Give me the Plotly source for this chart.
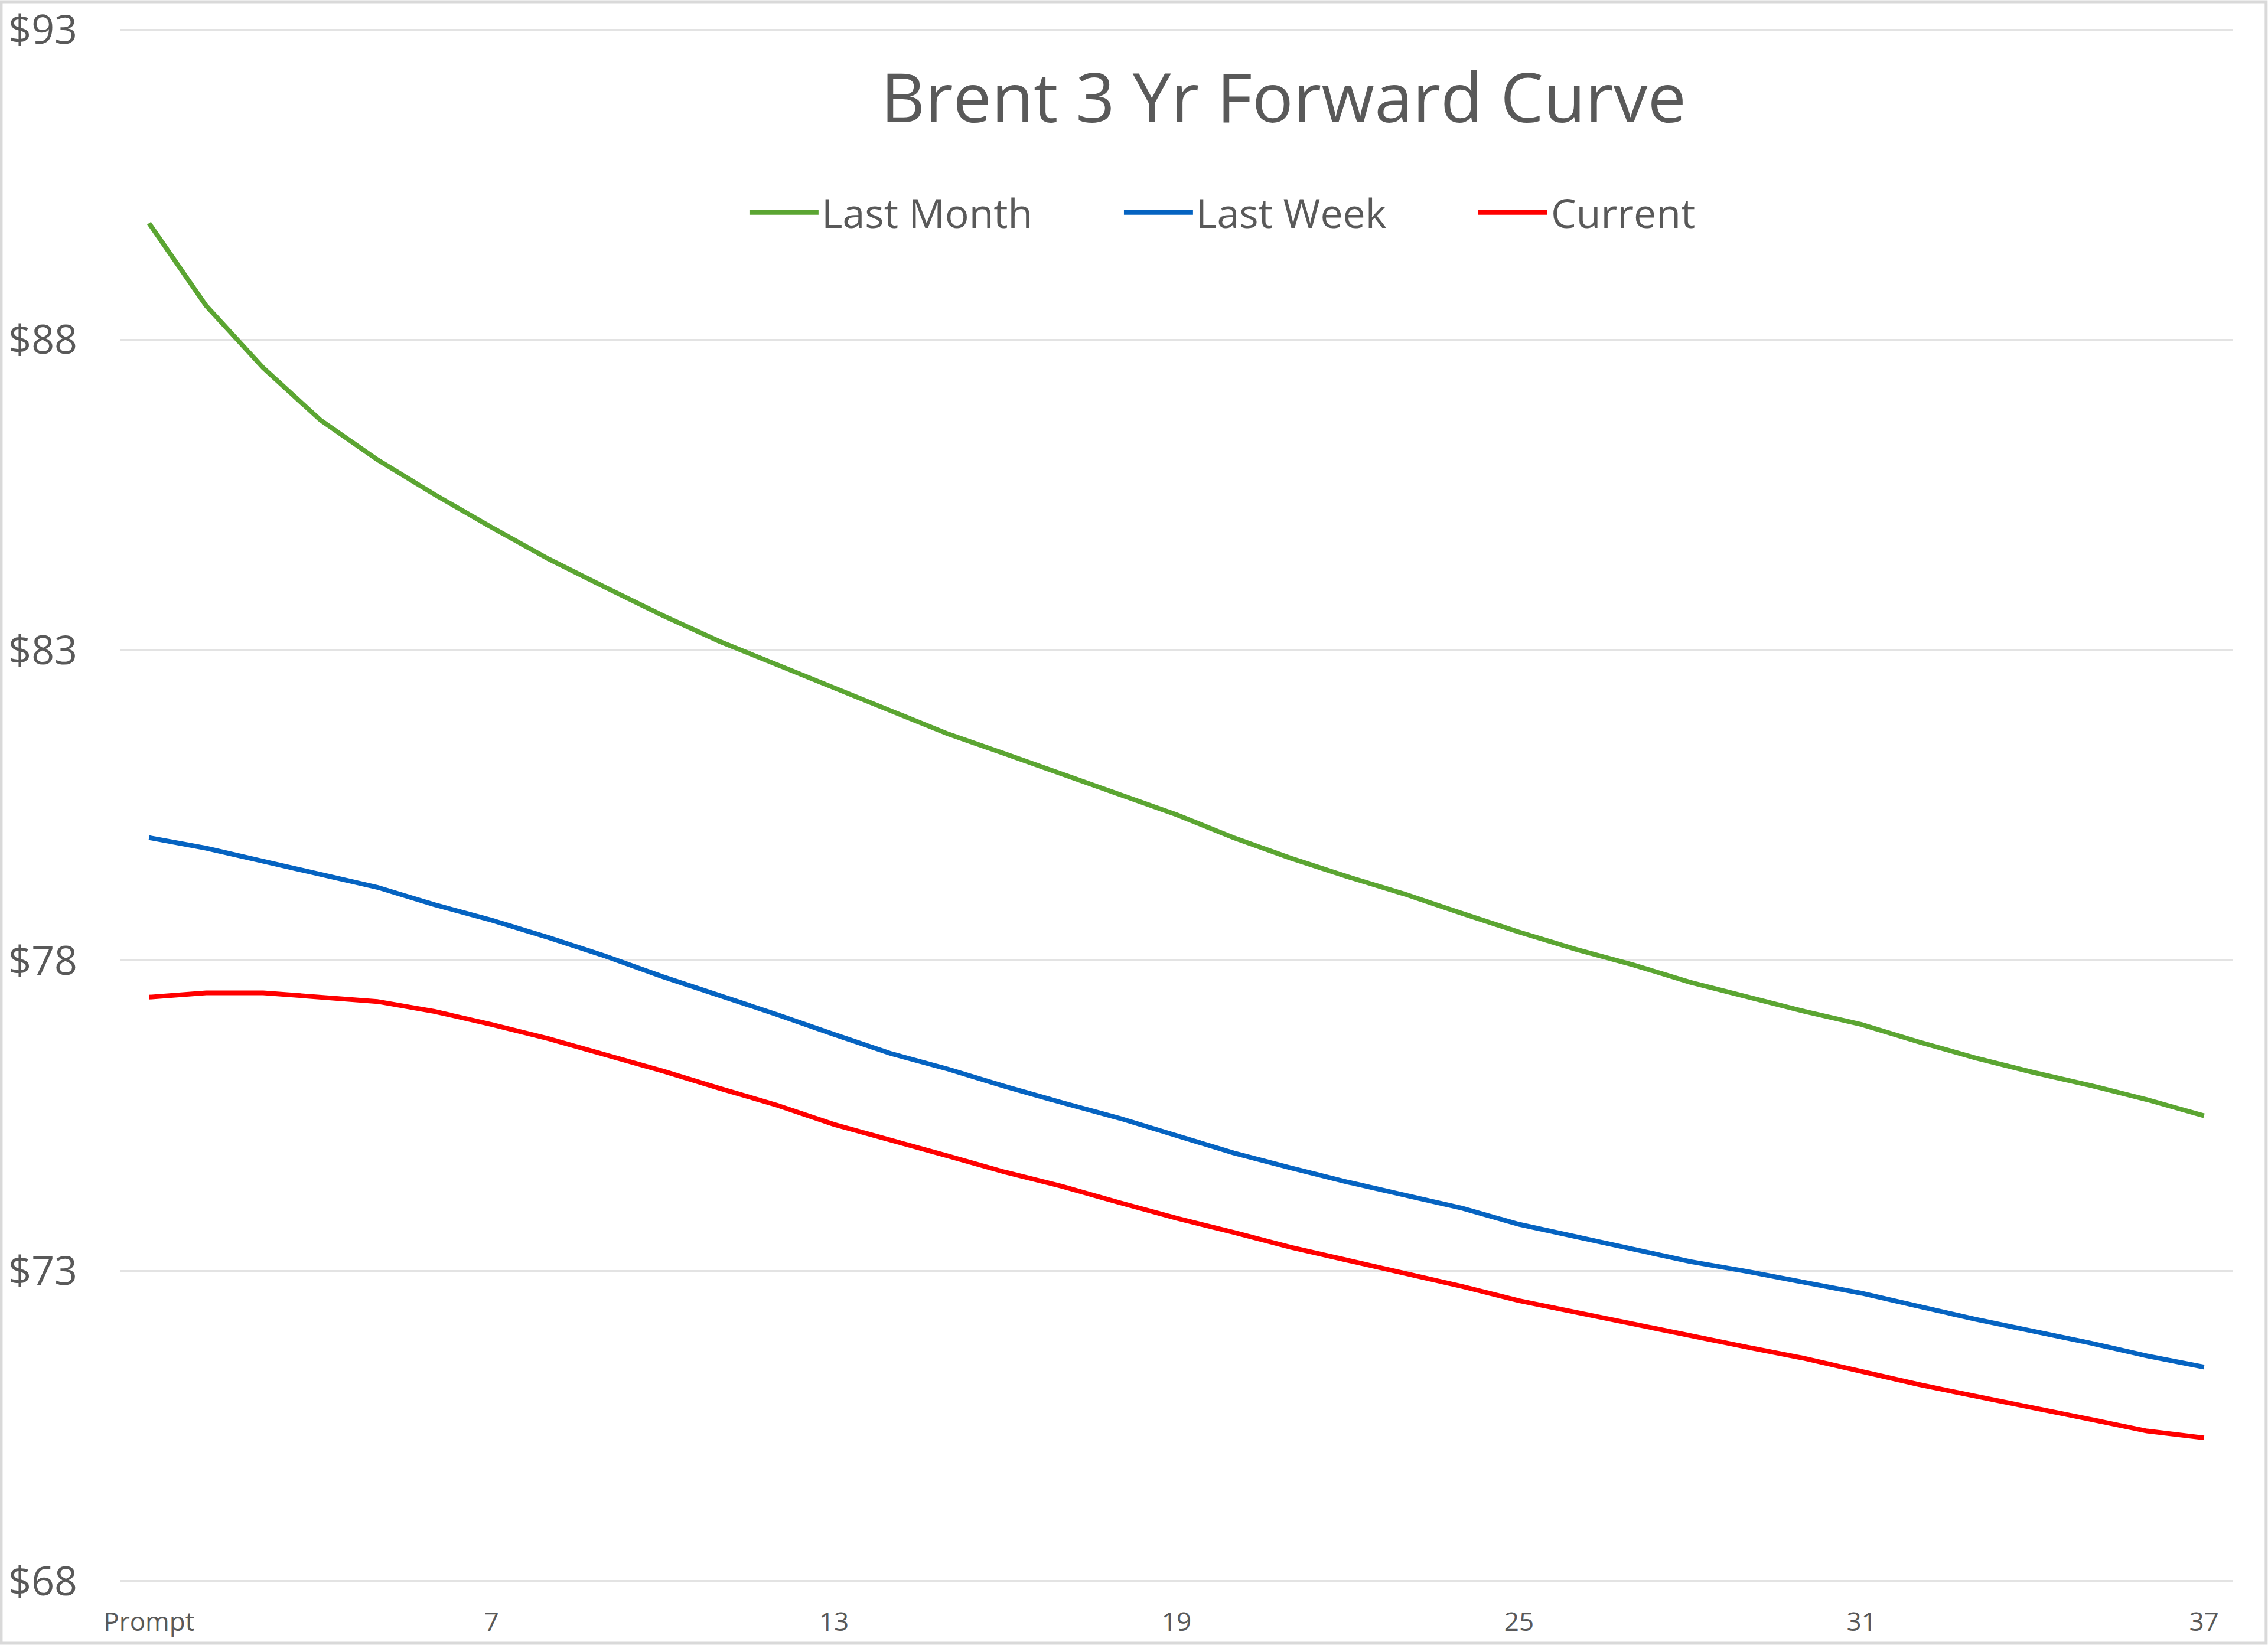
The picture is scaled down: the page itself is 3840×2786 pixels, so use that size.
import plotly.graph_objects as go

# ---- data ----
months = ["Prompt"] + [str(i) for i in range(2, 38)]
last_month = [89.88, 88.55, 87.55, 86.71, 86.07, 85.51, 84.98, 84.47, 84.01, 83.56,
              83.14, 82.77, 82.40, 82.03, 81.65, 81.33, 81.00, 80.67, 80.35, 79.98,
              79.65, 79.35, 79.07, 78.76, 78.46, 78.18, 77.93, 77.65, 77.41, 77.18,
              76.97, 76.69, 76.43, 76.20, 75.99, 75.76, 75.50]
last_week = [79.98, 79.81, 79.60, 79.39, 79.18, 78.90, 78.65, 78.37, 78.07, 77.74,
             77.44, 77.13, 76.81, 76.50, 76.25, 75.97, 75.71, 75.46, 75.18, 74.90,
             74.66, 74.43, 74.22, 74.01, 73.75, 73.55, 73.34, 73.15, 72.99, 72.82,
             72.64, 72.43, 72.22, 72.03, 71.84, 71.63, 71.45]
current = [77.41, 77.48, 77.48, 77.41, 77.34, 77.18, 76.97, 76.74, 76.48, 76.22,
           75.94, 75.67, 75.36, 75.11, 74.85, 74.59, 74.36, 74.10, 73.85, 73.62,
           73.38, 73.17, 72.96, 72.75, 72.52, 72.33, 72.15, 71.96, 71.77, 71.59,
           71.38, 71.17, 70.98, 70.80, 70.61, 70.42, 70.31]
series_names = ["Last Month", "Last Week", "Current"]
series_values = [last_month, last_week, current]
series_colors = ["#5ba532", "#0563c1", "#ff0000"]
x_tick_labels = ["Prompt", "7", "13", "19", "25", "31", "37"]
y_ticks = [68, 73, 78, 83, 88, 93]
title_text = "Brent 3 Yr Forward Curve"

FONT = "Open Sans"
GREY = "#595959"
GRID = "#e3e3e3"

fig = go.Figure()
for name, vals, col in zip(series_names, series_values, series_colors):
    fig.add_trace(go.Scatter(x=months, y=vals, name=name, mode="lines",
                             line=dict(color=col, width=8), showlegend=False))

# top gridline (at the edge of the plot area)
fig.add_hline(y=y_ticks[-1], line=dict(color=GRID, width=3), layer="below")

# custom legend (long line samples like the original)
legend_x = [0.2978, 0.4751, 0.6429]
legend_y = 0.8818
seg = 0.0327
for lx, name, col in zip(legend_x, series_names, series_colors):
    fig.add_shape(type="line", xref="paper", yref="paper",
                  x0=lx, x1=lx + seg, y0=legend_y, y1=legend_y,
                  line=dict(color=col, width=8))
    fig.add_annotation(xref="paper", yref="paper", x=lx + seg + 0.001, y=legend_y,
                       text=name, showarrow=False, xanchor="left", yanchor="middle",
                       font=dict(family=FONT, size=68, color=GREY))

# outer chart border
fig.add_shape(type="rect", xref="paper", yref="paper",
              x0=-0.0565, x1=1.0159, y0=-0.0395, y1=1.0175,
              line=dict(color="#d9d9d9", width=5), layer="below")

fig.update_layout(
    width=3840, height=2786,
    margin=dict(l=204, r=60, t=49, b=107, autoexpand=False),
    paper_bgcolor="white", plot_bgcolor="white",
    title=dict(text=title_text, x=0.5659, xref="container", xanchor="center",
               y=0.9404, yref="container", yanchor="middle",
               font=dict(family=FONT, size=116, color=GREY)),
    xaxis=dict(type="category", range=[-0.5, 36.5], tickmode="array",
               tickvals=x_tick_labels, ticktext=x_tick_labels,
               showgrid=False, showline=False, zeroline=False, ticks="",
               ticklabelstandoff=38, automargin=False,
               tickfont=dict(family=FONT, size=44, color=GREY)),
    yaxis=dict(range=[67.99, 93.01], tickmode="array", tickvals=y_ticks,
               ticktext=["$" + str(v) for v in y_ticks],
               showgrid=True, gridcolor=GRID, gridwidth=3,
               zeroline=False, showline=False, ticks="",
               ticklabelstandoff=72, automargin=False,
               tickfont=dict(family=FONT, size=68, color=GREY)),
)

fig.write_html("out.html")
